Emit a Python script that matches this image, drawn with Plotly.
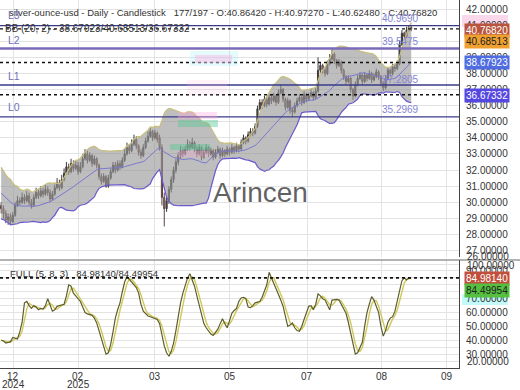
import plotly.graph_objects as go
import pandas as pd

# ---------------- data ----------------
prior_close = [32.3, 32.0, 31.6, 31.2, 31.5, 30.9, 30.5, 31.0, 30.6, 30.2,
               29.8, 30.3, 30.7, 30.2, 29.7, 30.1, 29.8, 29.4, 29.9]

open_ = [29.8, 29.6, 29.3, 28.9, 29.1, 28.8, 29.2, 29.8, 30.1, 30.0,
         30.3, 30.1, 30.4, 30.0, 29.8, 30.3, 30.6, 30.4, 30.7, 30.5,
         30.8, 30.6, 30.2, 30.5, 30.9, 31.2, 30.9, 31.4, 31.8, 32.2,
         31.9, 32.4, 32.1, 32.3, 31.9, 32.2, 32.7, 33.0, 32.6, 32.9,
         32.4, 32.7, 32.3, 31.6, 31.3, 31.6, 31.0, 31.5, 31.9, 32.3,
         32.0, 32.4, 32.2, 32.6, 33.0, 33.4, 33.2, 33.6, 33.9, 33.5,
         33.1, 32.9, 33.4, 33.8, 34.1, 34.4, 34.0, 34.3, 34.0, 33.4,
         30.3, 29.6, 30.1, 30.8, 31.4, 32.0, 32.5, 32.9, 33.2, 33.0,
         33.3, 33.6, 33.4, 33.7, 33.3, 33.0, 33.4, 32.8, 33.1, 33.4,
         33.0, 33.2, 32.8, 33.1, 33.3, 32.9, 33.2, 33.0, 33.3, 33.1,
         33.4, 33.2, 33.5, 33.3, 33.7, 34.0, 33.8, 34.2, 34.4, 34.3,
         34.7, 35.8, 36.2, 36.0, 36.4, 36.1, 36.5, 36.3, 36.6, 36.2,
         36.8, 37.0, 36.4, 35.9, 36.3, 35.7, 35.6, 36.0, 36.3, 36.5,
         36.2, 36.7, 36.4, 36.6, 36.8, 36.5, 36.9, 38.2, 38.5, 38.2,
         38.0, 38.6, 38.9, 39.2, 38.8, 38.5, 38.7, 38.2, 37.8, 37.5,
         37.7, 37.0, 36.6, 37.3, 37.7, 37.9, 37.5, 37.9, 37.7, 38.0,
         37.6, 37.8, 38.1, 37.8, 37.4, 37.1, 37.7, 38.2, 38.0, 38.4,
         38.3, 38.6, 39.8, 40.5, 40.3, 40.7, 40.8642]

high = [30.0, 29.8, 29.5, 29.3, 29.3, 29.4, 30.0, 30.4, 30.3, 30.6,
        30.5, 30.7, 30.6, 30.2, 30.5, 30.9, 30.8, 31.0, 30.9, 31.1,
        31.0, 30.8, 30.7, 31.1, 31.5, 31.4, 31.7, 32.1, 32.5, 32.4,
        32.7, 32.6, 32.6, 32.5, 32.5, 33.0, 33.3, 33.2, 33.1, 33.0,
        32.9, 32.8, 32.4, 31.8, 31.8, 31.7, 31.7, 32.1, 32.5, 32.5,
        32.6, 32.6, 32.8, 33.3, 33.7, 33.6, 33.9, 34.2, 34.1, 33.6,
        33.3, 33.6, 34.0, 34.4, 34.6, 34.5, 34.5, 34.4, 34.2, 33.6,
        30.6, 30.4, 31.0, 31.6, 32.2, 32.7, 33.1, 33.5, 33.4, 33.5,
        33.9, 33.8, 34.0, 33.8, 33.5, 33.6, 33.5, 33.3, 33.6, 33.5,
        33.4, 33.3, 33.3, 33.5, 33.4, 33.4, 33.3, 33.5, 33.4, 33.6,
        33.5, 33.7, 33.6, 33.9, 34.2, 34.1, 34.4, 34.6, 34.6, 34.9,
        36.0, 36.4, 36.4, 36.6, 36.5, 36.7, 36.7, 36.8, 36.7, 37.0,
        37.3, 37.1, 36.5, 36.5, 36.4, 35.9, 36.2, 36.5, 36.7, 36.6,
        36.9, 36.8, 36.8, 37.0, 36.9, 37.1, 39.0, 38.7, 38.6, 38.4,
        38.8, 39.2, 39.6, 39.3, 38.9, 38.9, 38.8, 38.3, 37.9, 37.9,
        37.8, 37.1, 37.5, 37.9, 38.1, 38.0, 38.1, 38.0, 38.2, 38.1,
        38.0, 38.3, 38.2, 37.9, 37.5, 37.9, 38.4, 38.3, 38.6, 38.6,
        38.8, 40.0, 40.7, 40.6, 40.9, 41.0, 40.9727]

low = [29.3, 29.0, 28.7, 28.6, 28.6, 28.7, 29.1, 29.7, 29.8, 29.9,
       29.9, 30.0, 29.8, 29.6, 29.7, 30.2, 30.2, 30.3, 30.3, 30.4,
       30.4, 30.0, 30.1, 30.4, 30.8, 30.7, 30.8, 31.3, 31.7, 31.7,
       31.8, 31.9, 32.0, 31.7, 31.8, 32.1, 32.6, 32.4, 32.5, 32.2,
       32.3, 32.1, 31.4, 31.1, 31.2, 30.9, 30.9, 31.4, 31.8, 31.8,
       31.9, 32.0, 32.1, 32.5, 32.9, 33.0, 33.1, 33.5, 33.3, 32.9,
       32.7, 32.8, 33.3, 33.7, 34.0, 33.8, 33.9, 33.7, 33.2, 29.8,
       28.5, 29.4, 29.9, 30.6, 31.2, 31.8, 32.3, 32.7, 32.8, 32.9,
       33.2, 33.2, 33.3, 33.1, 32.8, 32.9, 32.6, 32.7, 33.0, 32.8,
       32.9, 32.6, 32.7, 33.0, 32.7, 32.8, 32.8, 32.9, 32.9, 33.0,
       33.0, 33.1, 33.1, 33.2, 33.6, 33.6, 33.7, 34.1, 34.1, 34.2,
       34.6, 35.7, 35.8, 35.9, 35.9, 36.0, 36.1, 36.2, 36.0, 36.1,
       36.7, 36.2, 35.7, 35.8, 35.5, 35.3, 35.5, 35.9, 36.2, 36.0,
       36.1, 36.2, 36.3, 36.5, 36.3, 36.4, 36.8, 38.0, 38.0, 37.8,
       37.9, 38.5, 38.8, 38.6, 38.3, 38.4, 38.0, 37.6, 37.3, 37.4,
       36.8, 36.35, 36.5, 37.2, 37.6, 37.3, 37.4, 37.5, 37.6, 37.4,
       37.5, 37.7, 37.6, 37.2, 36.9, 37.0, 37.6, 37.8, 37.9, 38.1,
       38.2, 38.5, 39.7, 40.1, 40.2, 40.6, 40.6248]

close = [29.6, 29.3, 28.9, 29.1, 28.8, 29.2, 29.8, 30.1, 30.0, 30.3,
         30.1, 30.4, 30.0, 29.8, 30.3, 30.6, 30.4, 30.7, 30.5, 30.8,
         30.6, 30.2, 30.5, 30.9, 31.2, 30.9, 31.4, 31.8, 32.2, 31.9,
         32.4, 32.1, 32.3, 31.9, 32.2, 32.7, 33.0, 32.6, 32.9, 32.4,
         32.7, 32.3, 31.6, 31.3, 31.6, 31.0, 31.5, 31.9, 32.3, 32.0,
         32.4, 32.2, 32.6, 33.0, 33.4, 33.2, 33.6, 33.9, 33.5, 33.1,
         32.9, 33.4, 33.8, 34.1, 34.4, 34.0, 34.3, 33.9, 33.4, 30.3,
         29.6, 30.1, 30.8, 31.4, 32.0, 32.5, 32.9, 33.2, 33.0, 33.3,
         33.6, 33.4, 33.7, 33.3, 33.0, 33.4, 32.8, 33.1, 33.4, 33.0,
         33.2, 32.8, 33.1, 33.3, 32.9, 33.2, 33.0, 33.3, 33.1, 33.4,
         33.2, 33.5, 33.3, 33.7, 34.0, 33.8, 34.2, 34.4, 34.3, 34.7,
         35.8, 36.2, 36.0, 36.4, 36.1, 36.5, 36.3, 36.6, 36.2, 36.8,
         37.0, 36.4, 35.9, 36.3, 35.7, 35.6, 36.0, 36.3, 36.5, 36.2,
         36.7, 36.4, 36.6, 36.8, 36.5, 36.9, 38.2, 38.5, 38.2, 38.0,
         38.6, 38.9, 39.2, 38.8, 38.5, 38.7, 38.2, 37.8, 37.5, 37.7,
         37.0, 36.6, 37.3, 37.7, 37.9, 37.5, 37.9, 37.7, 38.0, 37.6,
         37.8, 38.1, 37.8, 37.4, 37.1, 37.7, 38.2, 38.0, 38.4, 38.3,
         38.6, 39.8, 40.5, 40.3, 40.7, 40.9, 40.7682]

stoch_k = [40, 39.5, 38, 38.5, 39, 42, 41.5, 41, 46, 53,
           67, 68, 65, 63, 65, 64, 62, 63, 62.5, 65,
           70, 65, 61, 62, 64.5, 65, 65.5, 66, 72, 80,
           79, 74, 72, 70, 68, 64, 60, 59, 58.5, 58,
           56, 52.5, 47, 41, 35, 30, 31, 37, 46, 56,
           62, 67, 75, 82, 86, 84, 82, 80, 78, 74,
           66, 61, 59, 57.5, 57, 56.5, 56, 55, 52, 44,
           36, 31, 28.5, 32, 38, 47, 58, 67, 74, 80,
           85, 88, 84, 79, 72, 65, 58, 52, 49, 47,
           44.5, 43.5, 45.5, 48, 52, 55.5, 52, 49, 54, 59.5,
           61.5, 63, 68, 70.5, 71, 70, 64, 63.5, 65, 67,
           67.5, 68, 71, 76, 80, 89, 85, 81, 78, 74,
           69, 64.5, 57, 50, 51, 52.5, 49, 47, 46.5, 50,
           55, 60, 64.5, 65, 62, 66, 73.5, 72, 70, 69,
           65, 62, 69, 69.5, 69.5, 69, 66, 62, 59.5, 53,
           45.5, 37, 30, 31, 35, 38.5, 50, 60, 66, 71.5,
           69, 65, 60, 50, 43, 47, 53, 56, 57, 61,
           68, 76, 83, 85, 83.5, 85.0, 84.98]

n_slots = 197
tick_pos = [5.1, 33, 66, 98.2, 131.3, 163.4, 191.3]
tick_text = ["12", "02", "03", "05", "07", "08", "09"]
year_pos = [5.1, 33]
year_text = ["2024", "2025"]

levels = [40.9690, 39.5475, 37.2805, 35.2969]
level_names = ["L3", "L2", "L1", "L0"]
bb_values = [38.67923, 40.68513, 36.67332]
last_close = 40.76820
stoch_last = [84.98140, 84.49954]

# ---------------- computations ----------------
idx = list(range(len(close)))
allc = pd.Series(prior_close + close)
mid = allc.rolling(20).mean().iloc[len(prior_close):].tolist()
sd = allc.rolling(20).std(ddof=0).iloc[len(prior_close):].tolist()
upper = [m + 2 * s for m, s in zip(mid, sd)]
lower = [m - 2 * s for m, s in zip(mid, sd)]
stoch_d = pd.Series(stoch_k).rolling(3, min_periods=1).mean().tolist()

FONT = "Liberation Sans, Arial, sans-serif"
NB = "\u00a0"
W, H = 520, 390
ML, MR, MT, MB = 0, 61, 0, 22
PW, PH = W - ML - MR, H - MT - MB
AX = 10  # axis label font size


def px_x(px):
    return (px - ML) / PW


def px_y(py):
    return (PH - (py - MT)) / PH


fig = go.Figure()

# Bollinger bands
fig.add_trace(go.Scatter(x=idx, y=lower, mode="lines",
                         line=dict(color="#6a5acd", width=1.2),
                         hoverinfo="skip", showlegend=False))
fig.add_trace(go.Scatter(x=idx, y=upper, mode="lines", fill="tonexty",
                         fillcolor="rgba(150,150,150,0.62)",
                         line=dict(color="#c9bf7a", width=1.2),
                         hoverinfo="skip", showlegend=False))
fig.add_trace(go.Scatter(x=idx, y=mid, mode="lines",
                         line=dict(color="#7a78d0", width=1),
                         hoverinfo="skip", showlegend=False))

# candles
fig.add_trace(go.Candlestick(
    x=idx, open=open_, high=high, low=low, close=close,
    increasing=dict(line=dict(color="#3c3c3c", width=1), fillcolor="#4a4a4a"),
    decreasing=dict(line=dict(color="#5a4040", width=1), fillcolor="#e08a8a"),
    whiskerwidth=0, showlegend=False))

# stochastic
fig.add_trace(go.Scatter(x=idx, y=stoch_d, mode="lines", xaxis="x2", yaxis="y2",
                         line=dict(color="#cfc85a", width=1.4), showlegend=False))
fig.add_trace(go.Scatter(x=idx, y=stoch_k, mode="lines", xaxis="x2", yaxis="y2",
                         line=dict(color="#5e5e2c", width=1.2), showlegend=False))

shapes = []
lvl_colors = ["#3a3a8a", "#7b6bb8", "#3a3a8a", "#3a3a8a"]
lvl_widths = [1.3, 2.6, 1.3, 1.3]
for v, c, w in zip(levels, lvl_colors, lvl_widths):
    shapes.append(dict(type="line", xref="paper", yref="y", x0=0, x1=1, y0=v, y1=v,
                       line=dict(color=c, width=w)))
for v in [last_close, bb_values[0], bb_values[2]]:
    shapes.append(dict(type="line", xref="paper", yref="y", x0=0, x1=1, y0=v, y1=v,
                       line=dict(color="#111111", width=1.4, dash="dot")))
shapes.append(dict(type="line", xref="paper", yref="y2", x0=0, x1=1,
                   y0=stoch_last[0], y1=stoch_last[0],
                   line=dict(color="#111111", width=1.6, dash="dot")))
shapes.append(dict(type="line", xref="paper", yref="paper", x0=0, x1=W / PW,
                   y0=px_y(260), y1=px_y(260), line=dict(color="#666666", width=1)))
art = [
    (190, 238, 51, 66, "rgba(170,240,250,0.3)"),
    (195, 232, 55, 63, "rgba(255,160,220,0.35)"),
    (187, 227, 80, 95, "rgba(255,190,230,0.18)"),
    (178, 217, 112, 119, "rgba(255,170,220,0.35)"),
    (178, 218, 120, 127, "rgba(90,200,150,0.45)"),
    (170, 210, 144, 150, "rgba(90,200,150,0.45)"),
    (178, 210, 151, 157, "rgba(255,170,220,0.3)"),
]
for x0, x1, y0, y1, col in art:
    shapes.append(dict(type="rect", xref="paper", yref="paper",
                       x0=px_x(x0), x1=px_x(x1), y0=px_y(y1), y1=px_y(y0),
                       line=dict(width=0), fillcolor=col, layer="above"))
shapes.append(dict(type="rect", xref="paper", yref="paper", x0=px_x(462), x1=px_x(508),
                   y0=px_y(27), y1=px_y(15), line=dict(width=0),
                   fillcolor="rgba(250,205,230,0.8)", layer="below"))
shapes.append(dict(type="rect", xref="paper", yref="paper", x0=px_x(462), x1=px_x(508),
                   y0=px_y(305), y1=px_y(294), line=dict(width=0),
                   fillcolor="rgba(190,250,250,0.9)", layer="below"))

ann = []
title = ("silver-ounce-usd - Daily - Candlestick" + NB * 3 +
         "177/197 - O:40.86420 - H:40.97270 - L:40.62480 - C:40.76820")
ann.append(dict(text=title, x=px_x(7), y=px_y(13), xref="paper", yref="paper",
                xanchor="left", yanchor="middle", showarrow=False,
                font=dict(size=9.5, color="#333333", family=FONT)))
ann.append(dict(text="BB (20, 2) - 38.67923/40.68513/36.67332",
                x=px_x(3), y=px_y(29), xref="paper", yref="paper", xanchor="left",
                yanchor="middle", showarrow=False, font=dict(size=10, color="#333333", family=FONT)))
for name, py in zip(level_names, [15, 40, 76, 107]):
    ann.append(dict(text=name, x=px_x(6), y=px_y(py), xref="paper", yref="paper",
                    xanchor="left", yanchor="middle", showarrow=False,
                    font=dict(size=10.5, color="#7070c0", family=FONT)))
for v, py in zip(levels, [19, 42, 79, 109]):
    ann.append(dict(text=f"{v:.4f}", x=px_x(421), y=px_y(py), xref="paper", yref="paper",
                    xanchor="right", yanchor="middle", showarrow=False,
                    font=dict(size=10, color="#8585d5", family=FONT)))
ann.append(dict(text="Arincen", x=px_x(260), y=px_y(193), xref="paper", yref="paper",
                xanchor="center", yanchor="middle", showarrow=False,
                font=dict(size=28, color="rgba(70,70,70,0.85)", family=FONT)))
ann.append(dict(text="FULL (5, 8, 3)" + NB * 3 + "84.98140/84.49954", x=px_x(8), y=px_y(273),
                xref="paper", yref="paper", xanchor="left", yanchor="middle", showarrow=False,
                font=dict(size=9.5, color="#333333", family=FONT)))

boxes = [
    (f"{last_close:.5f}", 30, "#b9553e", "#ffffff"),
    (f"{bb_values[1]:.5f}", 41.5, "#f0a030", "#222222"),
    (f"{bb_values[0]:.5f}", 62.5, "#4f6de0", "#ffffff"),
    (f"{bb_values[2]:.5f}", 95.5, "#5548e0", "#ffffff"),
    (f"{stoch_last[0]:.5f}", 278, "#c0503c", "#ffffff"),
    (f"{stoch_last[1]:.5f}", 290, "#55c040", "#222222"),
]
for t, py, bg, fc in boxes:
    ann.append(dict(text=t, x=px_x(464), y=px_y(py), xref="paper", yref="paper",
                    xanchor="left", yanchor="middle", showarrow=False, bgcolor=bg,
                    borderpad=1, font=dict(size=AX, color=fc, family=FONT)))
for t, py in [("26.00000", 256), ("100.00000", 265), ("20.00000", 361)]:
    ann.append(dict(text=t, x=px_x(465), y=px_y(py), xref="paper", yref="paper",
                    xanchor="left", yanchor="middle", showarrow=False,
                    font=dict(size=AX, color="#333333", family=FONT)))
for p, t in zip(tick_pos, tick_text):
    ann.append(dict(text=t, x=p, y=px_y(376), xref="x2", yref="paper",
                    xanchor="center", yanchor="middle", showarrow=False,
                    font=dict(size=10, color="#333333", family=FONT)))
for p, t in zip(year_pos, year_text):
    ann.append(dict(text=t, x=p, y=px_y(384.5), xref="x2", yref="paper",
                    xanchor="center", yanchor="middle", showarrow=False,
                    font=dict(size=10, color="#333333", family=FONT)))

grid = "#e3e3e3"
main_ticks = list(range(27, 43))
st_ticks = [20, 25, 30, 35, 40, 45, 50, 55, 60, 65, 70, 75, 80, 85, 90, 95]
st_text = [f"{v:.5f}" if (v % 10 == 0 and v > 20) else "" for v in st_ticks]

fig.update_layout(
    width=W, height=H, margin=dict(l=ML, r=MR, t=MT, b=MB),
    paper_bgcolor="white", plot_bgcolor="white",
    font=dict(family=FONT, size=AX, color="#333333"),
    showlegend=False,
    xaxis=dict(domain=[0, 1], anchor="y", range=[-0.5, n_slots - 0.5],
               tickvals=tick_pos, showticklabels=False, showgrid=True, gridcolor=grid,
               zeroline=False, rangeslider=dict(visible=False), matches="x2"),
    yaxis=dict(domain=[px_y(257), 1], anchor="x", side="right", range=[26.6, 42.56],
               tickvals=main_ticks, tickformat=".5f", showgrid=True, gridcolor=grid,
               zeroline=False, showline=True, linecolor="#444444", linewidth=1,
               ticks="", ticklabelstandoff=4, tickfont=dict(size=AX, color="#333333")),
    xaxis2=dict(domain=[0, 1], anchor="y2", range=[-0.5, n_slots - 0.5],
                tickvals=tick_pos, showticklabels=False, showgrid=True, gridcolor=grid,
                zeroline=False, showline=True, linecolor="#444444", linewidth=1,
                ticks=""),
    yaxis2=dict(domain=[0, px_y(260)], anchor="x2", side="right", range=[20, 97.9],
                tickvals=st_ticks, ticktext=st_text, showgrid=True, gridcolor=grid,
                zeroline=False, showline=True, linecolor="#444444", linewidth=1,
                ticks="", ticklabelstandoff=4, tickfont=dict(size=AX, color="#333333")),
    shapes=shapes, annotations=ann,
)

fig.write_html("out.html", config={"displayModeBar": False},
               post_script="document.body.style.margin='0px';document.body.style.padding='0px';")
